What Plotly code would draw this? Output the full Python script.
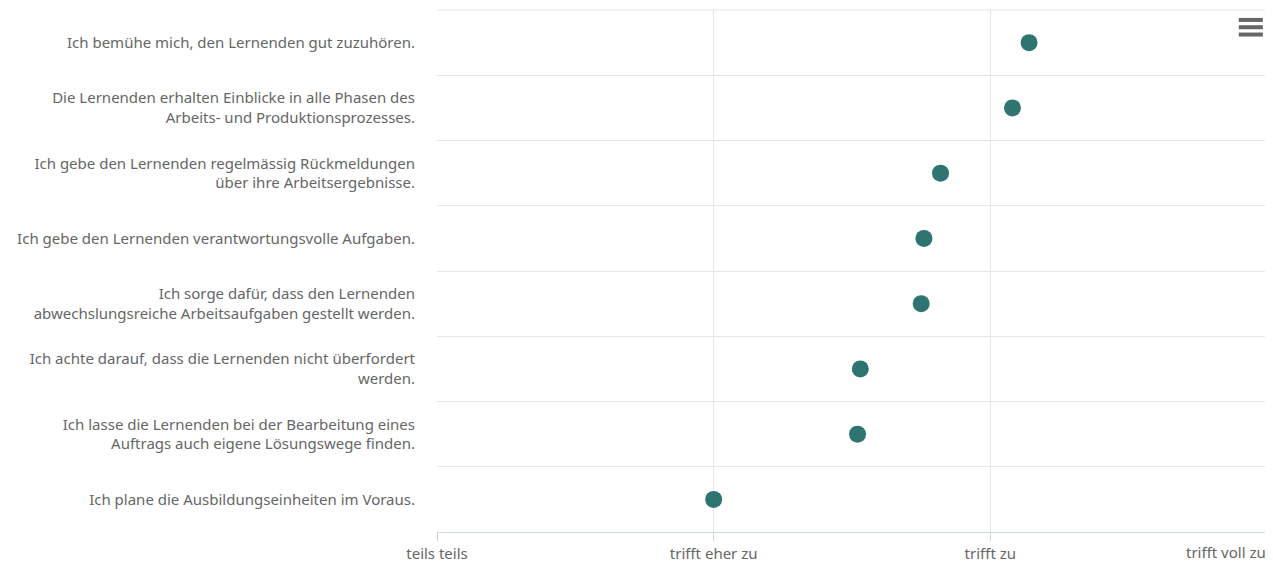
import plotly.graph_objects as go

categories = [
    "Ich bemühe mich, den Lernenden gut zuzuhören.",
    "Die Lernenden erhalten Einblicke in alle Phasen des<br>Arbeits- und Produktionsprozesses.",
    "Ich gebe den Lernenden regelmässig Rückmeldungen<br>über ihre Arbeitsergebnisse.",
    "Ich gebe den Lernenden verantwortungsvolle Aufgaben.",
    "Ich sorge dafür, dass den Lernenden<br>abwechslungsreiche Arbeitsaufgaben gestellt werden.",
    "Ich achte darauf, dass die Lernenden nicht überfordert<br>werden.",
    "Ich lasse die Lernenden bei der Bearbeitung eines<br>Auftrags auch eigene Lösungswege finden.",
    "Ich plane die Ausbildungseinheiten im Voraus.",
]
values = [5.14, 5.08, 4.82, 4.76, 4.75, 4.53, 4.52, 4.0]

x_tickvals = [3, 4, 5, 6]
x_ticktext = ["teils teils", "trifft eher zu", "trifft zu", "trifft voll zu"]

pos = list(range(len(categories)))
# last tick label is drawn right-aligned to its tick (as an annotation) so it stays inside the page
x_labels = list(x_ticktext[:-1]) + [""]

fig = go.Figure()
fig.add_trace(go.Scatter(
    x=values, y=pos, mode="markers",
    marker=dict(size=17, color="#2e7471"),
    hoverinfo="x+y", showlegend=False,
))

# the page body adds an 8px offset; compensate in size/margins
font_family = "Noto Sans, Open Sans, sans-serif"
fig.update_layout(
    width=1265, height=554,
    margin=dict(l=429, r=6, t=2, b=30, autoexpand=False),
    plot_bgcolor="white", paper_bgcolor="white",
    font=dict(family=font_family, size=15, color="#666666"),
    xaxis=dict(
        range=[3, 6], tickvals=x_tickvals, ticktext=x_labels,
        showgrid=True, gridcolor="#e6e6e6", gridwidth=1,
        showline=True, linecolor="#ccd6eb", linewidth=1,
        ticks="outside", ticklen=8, tickcolor="#ccd6eb",
        zeroline=False, tickfont=dict(size=15, color="#666666"),
        automargin=False, ticklabeloverflow="allow",
        fixedrange=True,
    ),
    yaxis=dict(
        range=[len(categories) - 0.5, -0.5],
        tickvals=pos, ticktext=categories,
        showgrid=False, zeroline=False, showline=False,
        ticks="", ticklabelstandoff=21,
        tickfont=dict(size=15, color="#666666"),
        minor=dict(tick0=0.5, dtick=1, showgrid=True, gridcolor="#e6e6e6", gridwidth=1, ticks=""),
        automargin=False,
        fixedrange=True,
    ),
)

fig.add_annotation(
    x=x_tickvals[-1], xref="x", y=0, yref="paper",
    text=x_ticktext[-1], showarrow=False,
    xanchor="right", yanchor="top", xshift=0, yshift=-9, borderpad=0,
    font=dict(size=15, color="#666666", family=font_family),
)

# frame lines at top and right edges (gridline colour)
fig.add_shape(type="line", xref="paper", yref="paper", x0=0, x1=1, y0=1, y1=1,
              line=dict(color="#e6e6e6", width=1), layer="below")
fig.add_shape(type="line", xref="paper", yref="paper", x0=1, x1=1, y0=0, y1=1,
              line=dict(color="#e6e6e6", width=1), layer="below")

# hamburger menu icon
for yy in [0.981, 0.967, 0.953]:
    fig.add_shape(type="line", xref="paper", yref="paper",
                  x0=0.966, x1=0.995, y0=yy, y1=yy,
                  line=dict(color="#666666", width=4))

fig.write_html("out.html")
